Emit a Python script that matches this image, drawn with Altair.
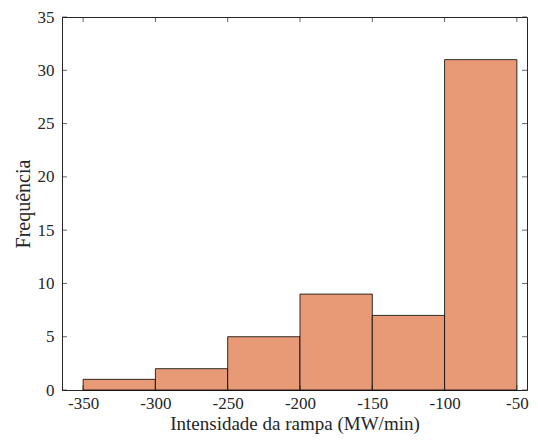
import altair as alt
import pandas as pd

bin_start = [-350, -300, -250, -200, -150, -100]
bin_end = [-300, -250, -200, -150, -100, -50]
counts = [1, 2, 5, 9, 7, 31]
x_ticks = [-350, -300, -250, -200, -150, -100, -50]
y_ticks = [0, 5, 10, 15, 20, 25, 30, 35]

df = pd.DataFrame({"start": bin_start, "end": bin_end, "count": counts})
xt = pd.DataFrame({"v": x_ticks})
yt = pd.DataFrame({"v": y_ticks})

W, H = 465, 373
FONT = "Liberation Serif"
xscale = alt.Scale(domain=[-364.6, -43], nice=False, zero=False)
yscale = alt.Scale(domain=[0, 35], nice=False)
minus_expr = "datum.value < 0 ? '-' + abs(datum.value) : '' + datum.value"

bars = alt.Chart(df).mark_rect(color="#E89A76", stroke="#000000", strokeWidth=0.8).encode(
    x=alt.X("start:Q", scale=xscale,
            axis=alt.Axis(values=x_ticks, title="Intensidade da rampa (MW/min)", grid=False,
                          ticks=False, labelPadding=5, titleBaseline="alphabetic",
                          titleY=39.5, titleFontSize=19, labelExpr=minus_expr)),
    x2="end:Q",
    y=alt.Y("count:Q", scale=yscale,
            axis=alt.Axis(values=y_ticks, title="Frequência", grid=False, ticks=False,
                          labelPadding=8, titlePadding=4, labelExpr=minus_expr)),
    y2=alt.datum(0),
)

tb = alt.Chart(xt).mark_tick(color="#262626", size=5, thickness=1).encode(
    x=alt.X("v:Q", scale=xscale), y=alt.value(H - 2.5))
tt = alt.Chart(xt).mark_tick(color="#262626", size=5, thickness=1).encode(
    x=alt.X("v:Q", scale=xscale), y=alt.value(2.5))
tl = alt.Chart(yt).mark_tick(color="#262626", size=5, thickness=1).encode(
    y=alt.Y("v:Q", scale=yscale), x=alt.value(2.5))
tr = alt.Chart(yt).mark_tick(color="#262626", size=5, thickness=1).encode(
    y=alt.Y("v:Q", scale=yscale), x=alt.value(W - 2.5))

chart = alt.layer(bars, tb, tt, tl, tr).properties(
    width=W, height=H,
    background="white",
    autosize=alt.AutoSizeParams(type="none"),
    padding={"left": 54, "top": 9, "right": 3, "bottom": 44},
).configure_view(stroke="#262626", strokeWidth=1).configure_axis(
    labelFont=FONT, titleFont=FONT, labelFontSize=17, titleFontSize=20,
    labelColor="#262626", titleColor="#262626", titleFontWeight="normal",
    domainColor="#262626", domainWidth=1,
)

chart.save("out.html", embed_options={"renderer": "svg", "actions": False})
